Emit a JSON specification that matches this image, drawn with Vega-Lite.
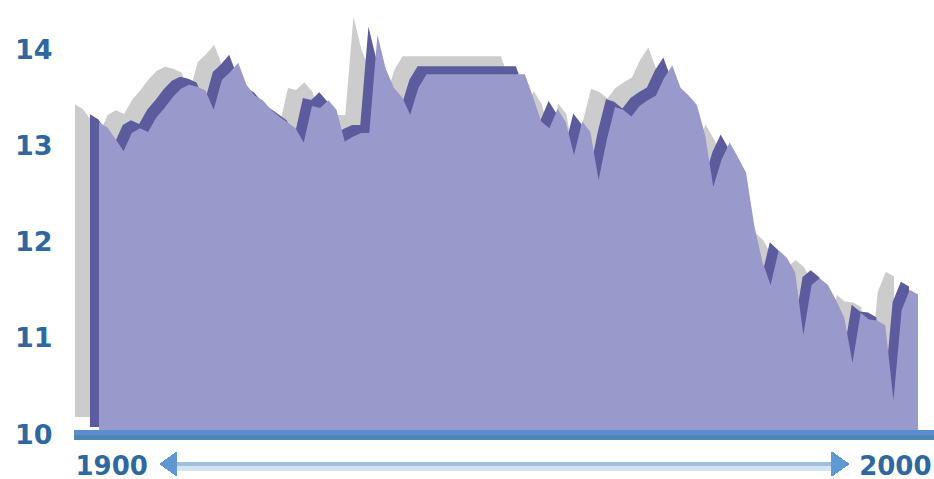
{
  "$schema": "https://vega.github.io/schema/vega-lite/v6.json",
  "width": 860,
  "height": 435,
  "autosize": {"type": "none"},
  "padding": {"left": 74, "top": 0, "right": 0, "bottom": 44},
  "background": "#ffffff",
  "config": {"view": {"stroke": null}},
  "data": {
    "values": [
      {"year": 1900, "value": 13.25}, {"year": 1901, "value": 13.20}, {"year": 1902, "value": 13.08},
      {"year": 1903, "value": 12.95}, {"year": 1904, "value": 13.14}, {"year": 1905, "value": 13.19},
      {"year": 1906, "value": 13.15}, {"year": 1907, "value": 13.30}, {"year": 1908, "value": 13.40},
      {"year": 1909, "value": 13.51}, {"year": 1910, "value": 13.60}, {"year": 1911, "value": 13.64},
      {"year": 1912, "value": 13.62}, {"year": 1913, "value": 13.58}, {"year": 1914, "value": 13.38},
      {"year": 1915, "value": 13.69}, {"year": 1916, "value": 13.77}, {"year": 1917, "value": 13.87},
      {"year": 1918, "value": 13.64}, {"year": 1919, "value": 13.53}, {"year": 1920, "value": 13.48},
      {"year": 1921, "value": 13.38}, {"year": 1922, "value": 13.31}, {"year": 1923, "value": 13.25},
      {"year": 1924, "value": 13.19}, {"year": 1925, "value": 13.04}, {"year": 1926, "value": 13.42},
      {"year": 1927, "value": 13.40}, {"year": 1928, "value": 13.48}, {"year": 1929, "value": 13.38},
      {"year": 1930, "value": 13.05}, {"year": 1931, "value": 13.10}, {"year": 1932, "value": 13.14},
      {"year": 1933, "value": 13.14}, {"year": 1934, "value": 14.16}, {"year": 1935, "value": 13.81},
      {"year": 1936, "value": 13.61}, {"year": 1937, "value": 13.51}, {"year": 1938, "value": 13.33},
      {"year": 1939, "value": 13.61}, {"year": 1940, "value": 13.75}, {"year": 1941, "value": 13.75},
      {"year": 1942, "value": 13.75}, {"year": 1943, "value": 13.75}, {"year": 1944, "value": 13.75},
      {"year": 1945, "value": 13.75}, {"year": 1946, "value": 13.75}, {"year": 1947, "value": 13.75},
      {"year": 1948, "value": 13.75}, {"year": 1949, "value": 13.75}, {"year": 1950, "value": 13.75},
      {"year": 1951, "value": 13.75}, {"year": 1952, "value": 13.75}, {"year": 1953, "value": 13.51},
      {"year": 1954, "value": 13.26}, {"year": 1955, "value": 13.19}, {"year": 1956, "value": 13.39},
      {"year": 1957, "value": 13.25}, {"year": 1958, "value": 12.91}, {"year": 1959, "value": 13.26},
      {"year": 1960, "value": 13.15}, {"year": 1961, "value": 12.65}, {"year": 1962, "value": 13.07},
      {"year": 1963, "value": 13.41}, {"year": 1964, "value": 13.38}, {"year": 1965, "value": 13.31},
      {"year": 1966, "value": 13.42}, {"year": 1967, "value": 13.48}, {"year": 1968, "value": 13.53},
      {"year": 1969, "value": 13.71}, {"year": 1970, "value": 13.84}, {"year": 1971, "value": 13.61},
      {"year": 1972, "value": 13.53}, {"year": 1973, "value": 13.43}, {"year": 1974, "value": 13.12},
      {"year": 1975, "value": 12.58}, {"year": 1976, "value": 12.86}, {"year": 1977, "value": 13.04},
      {"year": 1978, "value": 12.89}, {"year": 1979, "value": 12.73}, {"year": 1980, "value": 12.18},
      {"year": 1981, "value": 11.80}, {"year": 1982, "value": 11.56}, {"year": 1983, "value": 11.92},
      {"year": 1984, "value": 11.84}, {"year": 1985, "value": 11.69}, {"year": 1986, "value": 11.04},
      {"year": 1987, "value": 11.56}, {"year": 1988, "value": 11.63}, {"year": 1989, "value": 11.56},
      {"year": 1990, "value": 11.40}, {"year": 1991, "value": 11.22}, {"year": 1992, "value": 10.75},
      {"year": 1993, "value": 11.27}, {"year": 1994, "value": 11.20}, {"year": 1995, "value": 11.19},
      {"year": 1996, "value": 11.14}, {"year": 1997, "value": 10.36}, {"year": 1998, "value": 11.30},
      {"year": 1999, "value": 11.51}, {"year": 2000, "value": 11.46}
    ]
  },
  "encoding": {
    "x": {
      "field": "year",
      "type": "quantitative",
      "scale": {"domain": [1896.95, 2001.95], "nice": false, "zero": false},
      "axis": {
        "values": [1900, 2000],
        "format": "d",
        "title": null,
        "domain": false,
        "ticks": false,
        "grid": false,
        "labelFont": "DejaVu Sans",
        "labelFontWeight": "bold",
        "labelFontSize": 26,
        "labelColor": "#2f67a0",
        "labelPadding": 18,
        "labelFlush": false,
        "labelOverlap": false,
        "labelAlign": {"condition": {"test": "datum.value == 1900", "value": "left"}, "value": "right"},
        "labelOffset": {"condition": {"test": "datum.value == 1900", "value": -24}, "value": 13}
      }
    },
    "y": {
      "field": "value",
      "type": "quantitative",
      "stack": null,
      "scale": {"domain": [10, 14.522], "nice": false, "zero": false},
      "axis": {
        "values": [10, 11, 12, 13, 14],
        "title": null,
        "domain": false,
        "ticks": false,
        "grid": false,
        "labelFont": "DejaVu Sans",
        "labelFontWeight": "bold",
        "labelFontSize": 27,
        "labelColor": "#2f67a0",
        "labelPadding": 22
      }
    }
  },
  "layer": [
    {
      "mark": {"type": "area", "color": "#cccccc", "xOffset": -24, "yOffset": -18, "y2Offset": -18},
      "encoding": {"y2": {"datum": 10}}
    },
    {
      "mark": {"type": "area", "color": "#5b5b9d", "xOffset": -9, "yOffset": -8, "y2Offset": -8},
      "encoding": {"y2": {"datum": 10}}
    },
    {
      "mark": {"type": "area", "color": "#9999cc"},
      "encoding": {"y2": {"datum": 10}}
    },
    {
      "mark": {"type": "rule", "color": "#5a8ed0", "opacity": 0.55, "strokeWidth": 5, "yOffset": -2.5},
      "encoding": {"x": null, "y": {"datum": 10}}
    },
    {
      "mark": {"type": "rule", "color": "#4f86b3", "strokeWidth": 5, "yOffset": 2.5},
      "encoding": {"x": null, "y": {"datum": 10}}
    },
    {
      "mark": {"type": "rule", "color": "#9ec0dc", "strokeWidth": 4, "yOffset": 29.5},
      "encoding": {"x": {"datum": 1909.5}, "x2": {"datum": 1989.5}, "y": {"datum": 10}}
    },
    {
      "mark": {"type": "rule", "color": "#d3e3f0", "strokeWidth": 4, "yOffset": 33.5},
      "encoding": {"x": {"datum": 1909.5}, "x2": {"datum": 1989.5}, "y": {"datum": 10}}
    },
    {
      "mark": {"type": "point", "shape": "M-0.7,0L0.7,-1L0.7,1Z", "size": 576, "filled": true, "color": "#5f98d2", "opacity": 1, "yOffset": 29},
      "encoding": {"x": {"datum": 1908.5}, "y": {"datum": 10}}
    },
    {
      "mark": {"type": "point", "shape": "M0.7,0L-0.7,-1L-0.7,1Z", "size": 576, "filled": true, "color": "#5f98d2", "opacity": 1, "yOffset": 29},
      "encoding": {"x": {"datum": 1990.5}, "y": {"datum": 10}}
    }
  ]
}
